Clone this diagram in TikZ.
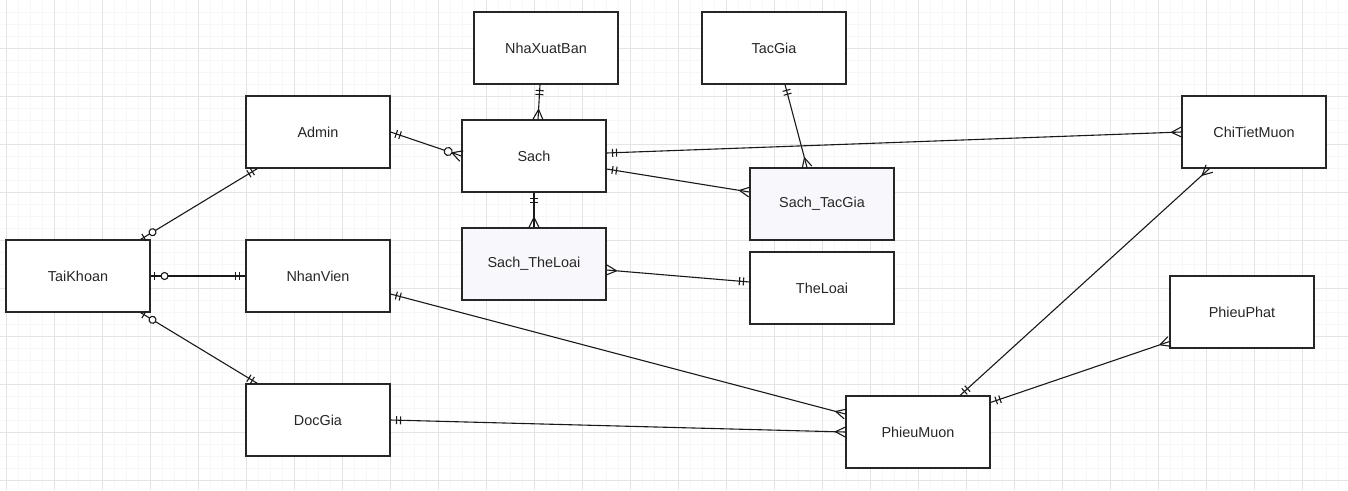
\documentclass[tikz,border=0pt]{standalone}
\usepackage{fontspec}
\setmainfont{Liberation Sans}
\usetikzlibrary{calc,decorations.markings}

\definecolor{linkfill}{RGB}{248,248,252}
\definecolor{gridminor}{RGB}{247,247,247}
\definecolor{gridmajor}{RGB}{228,228,228}

%crow's foot ends, drawn with the entity on the +x side
\newcommand{\crowOne}{\draw (-6,-4) -- (-6,4) (-10,-4) -- (-10,4);}
\newcommand{\crowZeroOne}{\draw (-4,-4) -- (-4,4); \draw[fill=white] (-14,0) circle (3.5);}
\newcommand{\crowMany}{\draw (-10,0) -- (0,-5) (-10,0) -- (0,5);}
\newcommand{\crowZeroMany}{\draw (-10,0) -- (0,-5.5) (-10,0) -- (0,5.5); \draw[fill=white] (-14,0) circle (4);}

\tikzset{
  entity/.style={draw=black!85, line width=1.1pt, fill=white, minimum width=144pt, minimum height=72pt, inner sep=0pt, text=black!85, font=\fontsize{14.4}{17}\selectfont},
  linkent/.style={entity, fill=linkfill},
  rel/.style={draw=black!90, line width=1.1pt},
  tail/.style={postaction={decorate,decoration={markings,mark=at position 0 with {\begin{scope}[xscale=-1]#1\end{scope}}}}},
  head/.style={postaction={decorate,decoration={markings,mark=at position 0.99999 with {#1}}}}
}

\begin{document}
\begin{tikzpicture}[x=1pt,y=-1pt]

     \useasboundingbox (0,0) rectangle (1348,490);
     \fill[white] (0,0) rectangle (1348,490);

     %Grid
     \foreach \gx in {6,18,...,1346} \draw[gridminor, line width=0.8pt] (\gx,0) -- (\gx,490);
     \foreach \gy in {12,24,...,480} \draw[gridminor, line width=0.8pt] (0,\gy) -- (1348,\gy);
     \foreach \gx in {6,54,...,1346} \draw[gridmajor, line width=0.9pt] (\gx,0) -- (\gx,490);
     \foreach \gy in {48,96,...,480} \draw[gridmajor, line width=0.9pt] (0,\gy) -- (1348,\gy);

     %Entities
     \node[entity] (TaiKhoan)    at (78,276)   {TaiKhoan};
     \node[entity] (Admin)       at (318,132)  {Admin};
     \node[entity] (NhanVien)    at (318,276)  {NhanVien};
     \node[entity] (DocGia)      at (318,420)  {DocGia};
     \node[entity] (NhaXuatBan)  at (546,48)   {NhaXuatBan};
     \node[entity] (Sach)        at (534,156)  {Sach};
     \node[linkent] (SachTheLoai) at (534,264) {Sach\_TheLoai};
     \node[entity] (TacGia)      at (774,48)   {TacGia};
     \node[linkent] (SachTacGia) at (822,204)  {Sach\_TacGia};
     \node[entity] (TheLoai)     at (822,288)  {TheLoai};
     \node[entity] (ChiTietMuon) at (1254,132) {ChiTietMuon};
     \node[entity] (PhieuPhat)   at (1242,312) {PhieuPhat};
     \node[entity] (PhieuMuon)   at (918,432)  {PhieuMuon};

     %Relations
     \draw[rel, tail=\crowZeroOne, head=\crowOne] ($(TaiKhoan.north east)+(-10,0)$) -- ($(Admin.south west)+(12,0)$);
     \draw[rel, tail=\crowZeroOne, head=\crowOne] (TaiKhoan.east) -- (NhanVien.west);
     \draw[rel, tail=\crowZeroOne, head=\crowOne] ($(TaiKhoan.south east)+(-10,0)$) -- ($(DocGia.north west)+(12,0)$);
     \draw[rel, tail=\crowOne, head=\crowZeroMany] (Admin.east) -- (Sach.west);
     \draw[rel, tail=\crowOne, head=\crowMany] ($(NhanVien.east)+(0,18)$) -- ($(PhieuMuon.west)+(0,-18)$);
     \draw[rel, tail=\crowOne, head=\crowMany] (DocGia.east) -- (PhieuMuon.west);
     \draw[rel, tail=\crowOne, head=\crowMany] ($(NhaXuatBan.south)+(-6,0)$) -- ($(Sach.north)+(4,0)$);
     \draw[rel, tail=\crowOne, head=\crowMany] (Sach.south) -- (SachTheLoai.north);
     \draw[rel, tail=\crowOne, head=\crowMany] ($(Sach.east)+(0,-3)$) -- (ChiTietMuon.west);
     \draw[rel, tail=\crowOne, head=\crowMany] ($(Sach.east)+(0,13)$) -- ($(SachTacGia.west)+(0,-12)$);
     \draw[rel, tail=\crowOne, head=\crowMany] ($(TacGia.south)+(11,0)$) -- ($(SachTacGia.north)+(-15,0)$);
     \draw[rel, tail=\crowMany, head=\crowOne] ($(SachTheLoai.east)+(0,6)$) -- ($(TheLoai.west)+(0,-6)$);
     \draw[rel, tail=\crowMany, head=\crowOne] ($(ChiTietMuon.south west)+(28,0)$) -- ($(PhieuMuon.north)+(42,0)$);
     \draw[rel, tail=\crowOne, head=\crowMany] ($(PhieuMuon.north east)+(0,7)$) -- ($(PhieuPhat.south west)+(0,-7)$);

\end{tikzpicture}
\end{document}
